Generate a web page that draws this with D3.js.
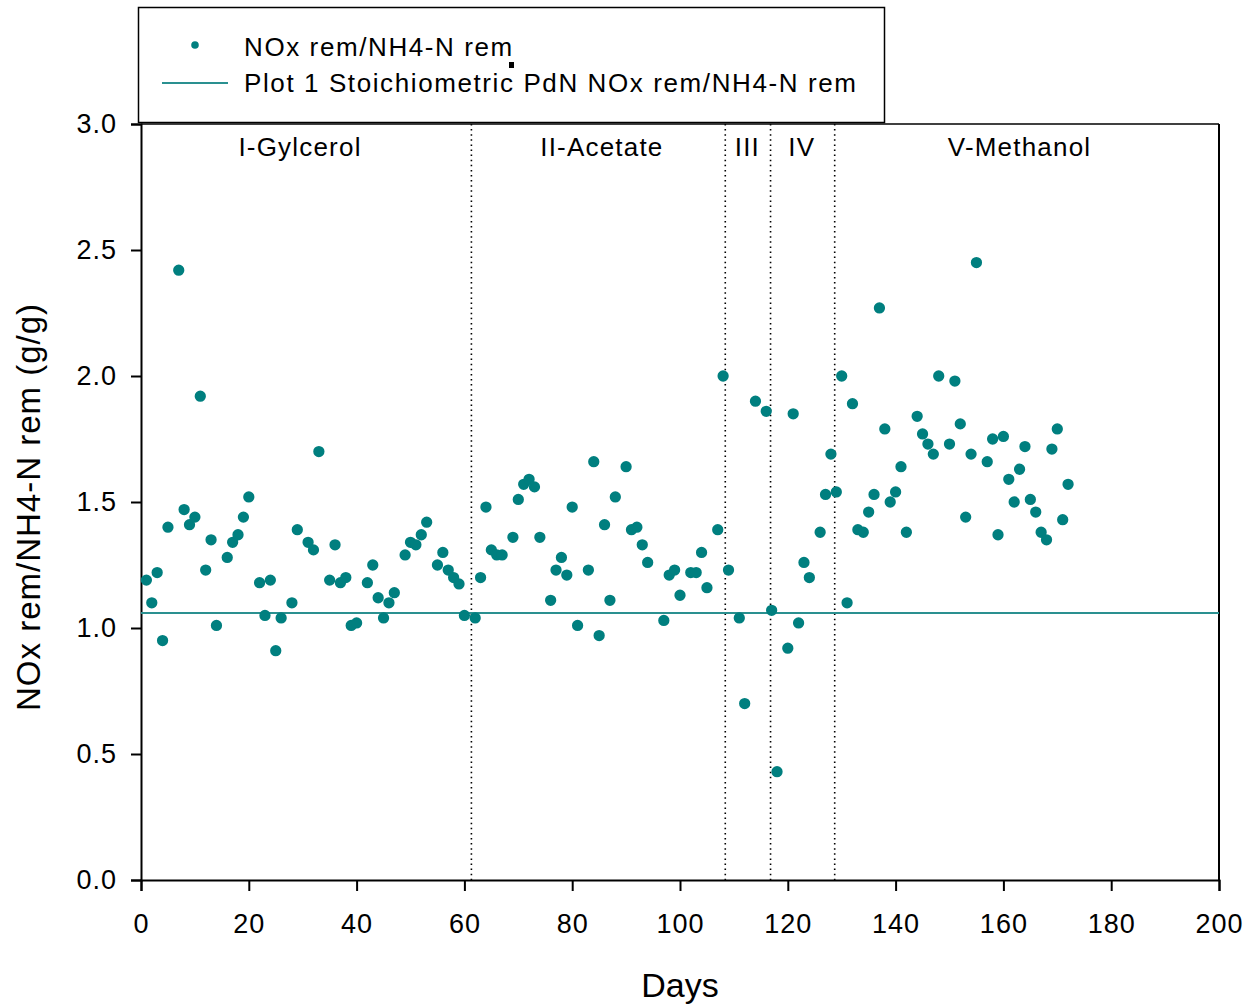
<!DOCTYPE html>
<html><head><meta charset="utf-8">
<script src="https://cdn.jsdelivr.net/npm/d3@7"></script>
<style>body{margin:0;background:#fff}svg{display:block}text{font-family:"Liberation Sans",Arial,sans-serif;fill:#000}</style>
</head><body>
<svg id="c" width="1253" height="1006"></svg>
<script>
const days = [1,2,3,4,5,7,8,9,10,11,12,13,14,16,17,18,19,20,22,23,24,25,26,28,29,31,32,33,35,36,37,38,39,40,42,43,44,45,46,47,49,50,51,52,53,55,56,57,58,59,60,62,63,64,65,66,67,69,70,71,72,73,74,76,77,78,79,80,81,83,84,85,86,87,88,90,91,92,93,94,97,98,99,100,102,103,104,105,107,108,109,111,112,114,116,117,118,120,121,122,123,124,126,127,128,129,130,131,132,133,134,135,136,137,138,139,140,141,142,144,145,146,147,148,150,151,152,153,154,155,157,158,159,160,161,162,163,164,165,166,167,168,169,170,171,172];
const ratio = [1.19,1.10,1.22,0.95,1.40,2.42,1.47,1.41,1.44,1.92,1.23,1.35,1.01,1.28,1.34,1.37,1.44,1.52,1.18,1.05,1.19,0.91,1.04,1.10,1.39,1.34,1.31,1.70,1.19,1.33,1.18,1.20,1.01,1.02,1.18,1.25,1.12,1.04,1.10,1.14,1.29,1.34,1.33,1.37,1.42,1.25,1.30,1.23,1.20,1.175,1.05,1.04,1.20,1.48,1.31,1.29,1.29,1.36,1.51,1.57,1.59,1.56,1.36,1.11,1.23,1.28,1.21,1.48,1.01,1.23,1.66,0.97,1.41,1.11,1.52,1.64,1.39,1.40,1.33,1.26,1.03,1.21,1.23,1.13,1.22,1.22,1.30,1.16,1.39,2.00,1.23,1.04,0.70,1.90,1.86,1.07,0.43,0.92,1.85,1.02,1.26,1.20,1.38,1.53,1.69,1.54,2.00,1.10,1.89,1.39,1.38,1.46,1.53,2.27,1.79,1.50,1.54,1.64,1.38,1.84,1.77,1.73,1.69,2.00,1.73,1.98,1.81,1.44,1.69,2.45,1.66,1.75,1.37,1.76,1.59,1.50,1.63,1.72,1.51,1.46,1.38,1.35,1.71,1.79,1.43,1.57];
const stoich = 1.06;
const phaseBounds = [61.3,108.4,116.8,128.7];
const phaseNames = ["I-Gylcerol","II-Acetate","III","IV","V-Methanol"];
const phaseLabelX = [29.5,85.5,112.5,122.6,163];
const xTicks = [0,20,40,60,80,100,120,140,160,180,200];
const yTicks = [0,0.5,1.0,1.5,2.0,2.5,3.0];
const legendLabels = ["NOx rem/NH4-N rem","Plot 1 Stoichiometric PdN NOx rem/NH4-N rem"];

const teal = "#007f7f", lineTeal = "#2a9090";
const svg = d3.select("#c");
const x = d3.scaleLinear().domain([0,200]).range([141,1219]);
const y = d3.scaleLinear().domain([0,3]).range([880,124]);

// axes
const xa = svg.append("g").attr("transform","translate(0,880)")
  .call(d3.axisBottom(x).tickValues(xTicks).tickSize(11).tickPadding(23).tickFormat(d3.format("d")));
const ya = svg.append("g").attr("transform","translate(141,0)")
  .call(d3.axisLeft(y).tickValues(yTicks).tickSize(10).tickPadding(14).tickFormat(d3.format(".1f")));
[xa,ya].forEach(g=>{
  g.select(".domain").attr("stroke","#000").attr("stroke-width",2);
  g.selectAll(".tick line").attr("stroke","#000").attr("stroke-width",2);
  g.selectAll(".tick text").style("font-size","27px").style("letter-spacing","1px").attr("fill","#000");
});
// right and top frame
svg.append("line").attr("x1",x(200)).attr("x2",x(200)).attr("y1",y(3)).attr("y2",y(0)).attr("stroke","#000").attr("stroke-width",2);
svg.append("line").attr("x1",x(0)).attr("x2",x(200)).attr("y1",y(3)).attr("y2",y(3)).attr("stroke","#000").attr("stroke-width",1.5);

// phase dividers
svg.selectAll(".div").data(phaseBounds).join("line")
  .attr("x1",d=>x(d)).attr("x2",d=>x(d)).attr("y1",y(3)).attr("y2",y(0))
  .attr("stroke","#000").attr("stroke-width",1.6).attr("stroke-dasharray","1.5,3.6");
svg.selectAll(".ph").data(phaseNames).join("text")
  .attr("x",(d,i)=>x(phaseLabelX[i])).attr("y",y(2.9)+7).attr("text-anchor","middle")
  .style("font-size","26px").style("letter-spacing","1.2px").text(d=>d);

// stoichiometric line
svg.append("line").attr("x1",x(0)).attr("x2",x(200)).attr("y1",y(stoich)).attr("y2",y(stoich))
  .attr("stroke",lineTeal).attr("stroke-width",2);

// points
const sym = d3.symbol().type(d3.symbolCircle).size(100);
svg.selectAll(".pt").data(days.map((d,i)=>[d,ratio[i]])).join("path")
  .attr("d",sym).attr("transform",d=>`translate(${x(d[0])},${y(d[1])})`).attr("fill",teal);

// axis titles
svg.append("text").attr("x",x(100)).attr("y",997).attr("text-anchor","middle").style("font-size","34px").text("Days");
svg.append("text").attr("transform",`translate(40,507) rotate(-90)`).attr("text-anchor","middle").style("font-size","33px").style("letter-spacing","1px").text("NOx rem/NH4-N rem (g/g)");

// legend
const lg = svg.append("g");
lg.append("rect").attr("x",138.5).attr("y",7.5).attr("width",746).attr("height",115).attr("fill","#fff").attr("stroke","#000").attr("stroke-width",1.5);
lg.append("path").attr("d",d3.symbol().type(d3.symbolCircle).size(45)).attr("transform","translate(195,45)").attr("fill",teal);
lg.append("line").attr("x1",162).attr("x2",228).attr("y1",83).attr("y2",83).attr("stroke",lineTeal).attr("stroke-width",2);
lg.selectAll(".lt").data(legendLabels).join("text").attr("x",244).attr("y",(d,i)=>56+i*36).style("font-size","26px").style("letter-spacing","1.6px").text(d=>d);
lg.append("rect").attr("x",509).attr("y",62).attr("width",5).attr("height",6).attr("fill","#000");
</script>
</body></html>
